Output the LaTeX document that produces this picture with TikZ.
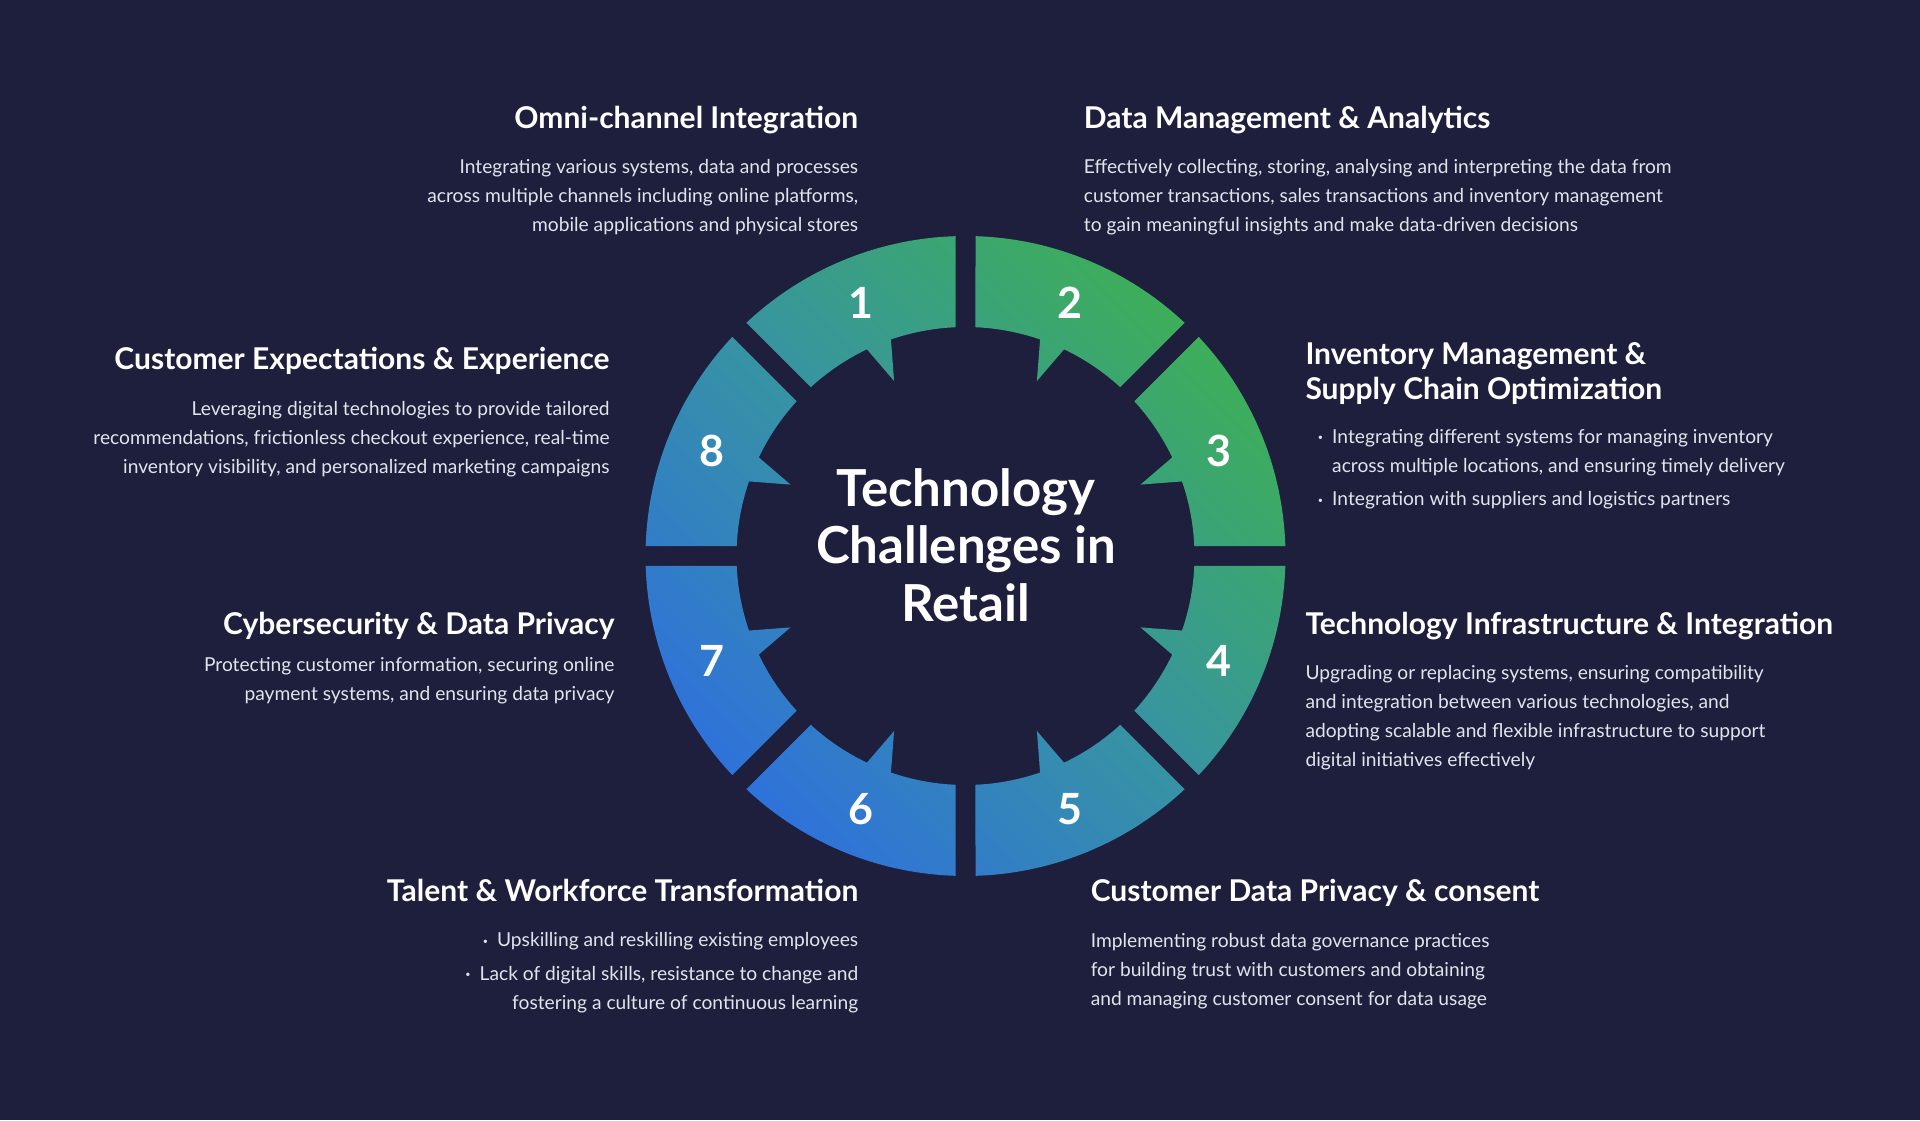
\documentclass[tikz,border=0pt]{standalone}
\usepackage{fontspec}
\setmainfont{Lato}
\usepackage{tikz}
\definecolor{rtbg}   {HTML}{1D1F3D}
\definecolor{rtgreen}{HTML}{3DAE5A}
\definecolor{rtteal} {HTML}{3794A2}
\definecolor{rtblue} {HTML}{2F72DA}
\definecolor{rttext} {HTML}{E2E4EC}
\newcommand{\rtdot}{\raisebox{2.5pt}{\fontsize{9}{9}\selectfont•}}

\begin{document}
\begin{tikzpicture}[x=1pt, y=1pt,
    heading/.style={font=\fontsize{30}{34.3}\selectfont\bfseries, text=white, inner sep=0pt},
    bodytext/.style={font=\fontsize{19.2}{29}\selectfont, text=rttext, inner sep=0pt},
    ringnum/.style={font=\fontsize{43}{43}\selectfont\bfseries, text=white, inner sep=0pt},
    hubtext/.style={font=\fontsize{51}{57.5}\selectfont\bfseries, text=white, inner sep=0pt, align=center}]
  \fill[rtbg] (0,0) rectangle (1920,1120);
  \useasboundingbox (0,0) rectangle (1920,1120);
  % ring of eight tailed segments
  \shade[top color=rtgreen, bottom color=rtblue, middle color=rtteal, shading angle=-45,
         shift={(965.5,564)}]
    foreach \ang/\dir in {90/1,90/-1,0/1,0/-1,270/1,270/-1,180/1,180/-1}{
      ({\ang+\dir*1.79}:320)
        arc[start angle={\ang+\dir*1.79}, end angle={\ang+\dir*43.21}, radius=320]
        -- ({\ang+\dir*42.5}:229)
        arc[start angle={\ang+\dir*42.5}, end angle={\ang+\dir*25.5}, radius=229]
        -- ({\ang+\dir*22.2}:189) -- ({\ang+\dir*19}:229)
        arc[start angle={\ang+\dir*19}, end angle={\ang+\dir*2.5}, radius=229] -- cycle
    };
  \begin{scope}[shift={(965.5,564)}]
    \foreach \num/\ang in {1/112.5,2/67.5,3/22.5,4/-22.5,5/-67.5,6/-112.5,7/-157.5,8/157.5}
      \node[ringnum] (n\num) at (\ang:274) {\num};
  \end{scope}
  \node[hubtext, anchor=base] (hub) at (966,498.6) {Technology\\Challenges in\\Retail};

  % top left / top right
  \node[heading, anchor=base east] (omnihead) at (858.4,991) {Omni-channel Integration};
  \node[bodytext, anchor=base east, align=right] (omnitext) at (858.4,888.7)
    {Integrating various systems, data and processes\\across multiple channels including online platforms,\\mobile applications and physical stores};
  \node[heading, anchor=base west] (datahead) at (1083.7,991) {Data Management \& Analytics};
  \node[bodytext, anchor=base west, align=left] (datatext) at (1083.7,888.7)
    {Effectively collecting, storing, analysing and interpreting the data from\\customer transactions, sales transactions and inventory management\\to gain meaningful insights and make data-driven decisions};

  % left side
  \node[heading, anchor=base east] (custhead) at (609.8,750) {Customer Expectations \& Experience};
  \node[bodytext, anchor=base east, align=right] (custtext) at (609.8,646.7)
    {Leveraging digital technologies to provide tailored\\recommendations, frictionless checkout experience, real-time\\inventory visibility, and personalized marketing campaigns};
  \node[heading, anchor=base east] (cyberhead) at (614.7,485) {Cybersecurity \& Data Privacy};
  \node[bodytext, anchor=base east, align=right] (cybertext) at (614.7,419.3)
    {Protecting customer information, securing online\\payment systems, and ensuring data privacy};

  % right side
  \node[heading, anchor=base west, align=left] (invhead) at (1305.3,720.7)
    {Inventory Management \&\\Supply Chain Optimization};
  \node[bodytext, anchor=base west, align=left] (invtext) at (1332,614)
    {\llap{\rtdot\hspace{9pt}}Integrating different systems for managing inventory\\across multiple locations, and ensuring timely delivery\\[4.7pt]\llap{\rtdot\hspace{9pt}}Integration with suppliers and logistics partners};
  \node[heading, anchor=base west] (techhead) at (1305.3,485) {Technology Infrastructure \& Integration};
  \node[bodytext, anchor=base west, align=left] (techtext) at (1305.3,353.3)
    {Upgrading or replacing systems, ensuring compatibility\\and integration between various technologies, and\\adopting scalable and flexible infrastructure to support\\digital initiatives effectively};

  % bottom left / bottom right
  \node[heading, anchor=base east] (talenthead) at (858.4,218.3) {Talent \& Workforce Transformation};
  \node[bodytext, anchor=base east, align=right] (talenttext) at (858.4,111)
    {\rtdot\hspace{9pt}Upskilling and reskilling existing employees\\[4.3pt]\rtdot\hspace{9pt}Lack of digital skills, resistance to change and\\fostering a culture of continuous learning};
  \node[heading, anchor=base west] (privhead) at (1090.6,218.3) {Customer Data Privacy \& consent};
  \node[bodytext, anchor=base west, align=left] (privtext) at (1090.6,115)
    {Implementing robust data governance practices\\for building trust with customers and obtaining\\and managing customer consent for data usage};
\end{tikzpicture}
\end{document}
